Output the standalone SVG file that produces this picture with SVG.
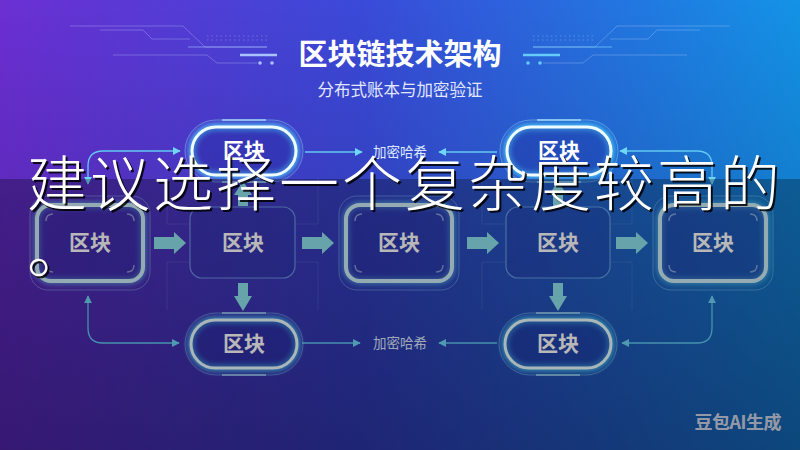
<svg xmlns="http://www.w3.org/2000/svg" width="800" height="450" viewBox="0 0 800 450">
<defs>
  <linearGradient id="bg" x1="0" y1="0" x2="1" y2="0">
    <stop offset="0" stop-color="#6c2fd3"/>
    <stop offset="0.45" stop-color="#3a4ad8"/>
    <stop offset="1" stop-color="#1393e6"/>
  </linearGradient>
  <linearGradient id="vshade" x1="0" y1="0" x2="0" y2="1">
    <stop offset="0" stop-color="#100a40" stop-opacity="0"/>
    <stop offset="1" stop-color="#100a40" stop-opacity="0.35"/>
  </linearGradient>
  <filter id="glow" x="-20%" y="-30%" width="140%" height="160%">
    <feGaussianBlur stdDeviation="2.5"/>
  </filter>
  <marker id="ah" viewBox="0 0 10 10" refX="9" refY="5" markerWidth="6" markerHeight="6" orient="auto-start-reverse">
    <path d="M0,0 L10,5 L0,10 z" fill="#6fd6f5"/>
  </marker>
  <style>
    .cjk{font-family:"Noto Sans CJK SC","Noto Sans",sans-serif}
    .title{font-size:29px;font-weight:700;fill:#ffffff}
    .sub{font-size:16.5px;fill:#e2e8ff}
    .lbl{font-size:13.5px;fill:#dde8ff}
    .ntext{font-size:21px;font-weight:700;fill:#ffffff}
    .deco{fill:none;stroke:#c9d6ff;stroke-opacity:0.3;stroke-width:1}
    .pillglow{fill:none;stroke:#4fd2ff;stroke-width:7;filter:url(#glow);opacity:0.8}
    .pill{fill:#1c2a9c;fill-opacity:0.35;stroke:#eefcff;stroke-width:3}
    .ring{fill:none;stroke:#9fdcff;stroke-opacity:0.4;stroke-width:1}
    .ringhi{fill:none;stroke:#bff0ff;stroke-opacity:0.8;stroke-width:1.5}
    .thickglow{fill:none;stroke:#6fe0ff;stroke-width:7;filter:url(#glow);opacity:0.55}
    .thick{fill:#2a2c9a;fill-opacity:0.35;stroke:#cdeef8;stroke-width:4}
    .tick{fill:none;stroke:#cfe6ff;stroke-opacity:0.55;stroke-width:1.5}
    .thin{fill:#24339e;fill-opacity:0.25;stroke:#8ecbff;stroke-opacity:0.6;stroke-width:1.2}
    .frame{fill:none;stroke:#b8ccff;stroke-opacity:0.15;stroke-width:1}
    .conn{fill:none;stroke:#63c9f2;stroke-width:1.3}
    .blk{fill:#8fe2ec}
    .big{font-size:60px;letter-spacing:3px;font-weight:300}
  </style>
</defs>

<rect x="0" y="0" width="800" height="450" fill="url(#bg)"/>
<rect x="0" y="0" width="800" height="450" fill="url(#vshade)"/>

<!-- decorations -->
<g id="decor-left">
  <path class="deco" d="M70 26 H183 L205 47 H267"/>
  <path class="deco" d="M100 30 H143 L152 39 H190"/>
  <path class="deco" d="M113 55 H207 L217 63 H257"/>
  <path d="M207 36 H267 M207 40 H267" fill="none" stroke="#c9d6ff" stroke-opacity="0.3" stroke-dasharray="1.5 3"/>
  <path d="M188 47 H267" fill="none" stroke="#a8c4ff" stroke-opacity="0.6" stroke-width="1.2"/>
  <path d="M240 55 H277" fill="none" stroke="#a9c2ff" stroke-width="2.5"/>
  <circle cx="260" cy="63" r="1.8" fill="#a9c2ff"/>
  <circle cx="272" cy="63" r="1.8" fill="#a9c2ff"/>
</g>
<g id="decor-right" transform="translate(800,0) scale(-1,1)">
  <path class="deco" d="M70 26 H183 L205 47 H267"/>
  <path class="deco" d="M100 30 H143 L152 39 H190"/>
  <path class="deco" d="M113 55 H207 L217 63 H257"/>
  <path d="M207 36 H267 M207 40 H267" fill="none" stroke="#c9e6ff" stroke-opacity="0.3" stroke-dasharray="1.5 3"/>
  <path d="M188 47 H267" fill="none" stroke="#7cd0ff" stroke-opacity="0.7" stroke-width="1.2"/>
  <path d="M240 55 H277" fill="none" stroke="#66ccff" stroke-width="2.5"/>
  <circle cx="260" cy="63" r="1.8" fill="#66ccff"/>
  <circle cx="272" cy="63" r="1.8" fill="#66ccff"/>
</g>

<g id="title">
  <text class="cjk title" x="400" y="65" text-anchor="middle">区块链技术架构</text>
  <text class="cjk sub" x="400" y="96" text-anchor="middle">分布式账本与加密验证</text>
</g>

<!-- faint frames -->
<g id="frames">
  <path class="frame" d="M167 178 V224 H190 M167 310 V262 H190 M318 178 V224 H295 M318 310 V262 H295"/>
  <path class="frame" d="M482 178 V224 H506 M482 310 V262 H506 M632 178 V224 H610 M632 310 V262 H610"/>
</g>

<!-- connectors -->
<g id="connectors">
  <path class="conn" d="M180 151 H103 Q88 151 88 166 V184" marker-start="url(#ah)" marker-end="url(#ah)"/>
  <path class="conn" d="M305 152 H362" marker-end="url(#ah)"/>
  <path class="conn" d="M497 152 H439" marker-end="url(#ah)"/>
  <path class="conn" d="M620 151 H697 Q712 151 712 166 V184" marker-start="url(#ah)" marker-end="url(#ah)"/>
  <path class="conn" d="M88 296 V328 Q88 343 103 343 H179" marker-start="url(#ah)" marker-end="url(#ah)"/>
  <path class="conn" d="M302 343 H360" marker-end="url(#ah)"/>
  <path class="conn" d="M497 343 H439" marker-end="url(#ah)"/>
  <path class="conn" d="M712 296 V328 Q712 343 697 343 H622" marker-start="url(#ah)" marker-end="url(#ah)"/>
  <polygon class="blk" points="154,237 174,237 174,232 186,243 174,254 174,249 154,249"/>
  <polygon class="blk" points="302,237 322,237 322,232 334,243 322,254 322,249 302,249"/>
  <polygon class="blk" points="467,237 487,237 487,232 499,243 487,254 487,249 467,249"/>
  <polygon class="blk" points="616,237 636,237 636,232 648,243 636,254 636,249 616,249"/>
  <polygon class="blk" points="238,283 248,283 248,296 252,296 243,311 234,296 238,296"/>
  <polygon class="blk" points="553,283 563,283 563,296 567,296 558,311 549,296 553,296"/>
  <polygon class="blk" points="238,206 248,206 248,195 252,195 243,181 234,195 238,195"/>
  <polygon class="blk" points="553,206 563,206 563,195 567,195 558,181 549,195 553,195"/>
</g>

<!-- top pills -->
<g id="pill-top-left">
  <rect class="ring" x="185" y="120" width="118" height="62" rx="31"/>
  <path class="ringhi" d="M222 120 H266 M222 182 H266"/>
  <rect class="pillglow" x="192" y="127" width="104" height="48" rx="24"/>
  <rect class="pill" x="192" y="127" width="104" height="48" rx="24"/>
  <text class="cjk ntext" x="244" y="158" text-anchor="middle" font-size="20">区块</text>
</g>
<g id="hash-top">
  <text class="cjk lbl" x="400" y="157" text-anchor="middle">加密哈希</text>
</g>
<g id="pill-top-right">
  <rect class="ring" x="500" y="120" width="118" height="62" rx="31"/>
  <path class="ringhi" d="M537 120 H581 M537 182 H581"/>
  <rect class="pillglow" x="507" y="127" width="104" height="48" rx="24"/>
  <rect class="pill" x="507" y="127" width="104" height="48" rx="24"/>
  <text class="cjk ntext" x="559" y="158" text-anchor="middle" font-size="20">区块</text>
</g>

<!-- middle row -->
<g id="block-1">
  <rect class="ring" x="30" y="196" width="120" height="94" rx="18"/>
  <rect class="thickglow" x="37" y="205" width="106" height="76" rx="14"/>
  <rect class="thick" x="37" y="205" width="106" height="76" rx="14"/>
  <path class="tick" d="M46 221 Q46 214 53 214 M127 214 Q134 214 134 221 M46 265 Q46 272 53 272 M127 272 Q134 272 134 265"/>
  <text class="cjk ntext" x="90" y="250" text-anchor="middle">区块</text>
</g>
<g id="block-2">
  <rect class="thin" x="190" y="207" width="105" height="71" rx="12"/>
  <text class="cjk ntext" x="243" y="250" text-anchor="middle" font-size="20">区块</text>
</g>
<g id="block-3">
  <rect class="ring" x="339" y="196" width="120" height="94" rx="18"/>
  <rect class="thickglow" x="346" y="205" width="106" height="76" rx="14"/>
  <rect class="thick" x="346" y="205" width="106" height="76" rx="14"/>
  <path class="tick" d="M355 221 Q355 214 362 214 M436 214 Q443 214 443 221 M355 265 Q355 272 362 272 M436 272 Q443 272 443 265"/>
  <text class="cjk ntext" x="399" y="250" text-anchor="middle">区块</text>
</g>
<g id="block-4">
  <rect class="thin" x="506" y="207" width="104" height="71" rx="12"/>
  <text class="cjk ntext" x="558" y="250" text-anchor="middle" font-size="20">区块</text>
</g>
<g id="block-5">
  <rect class="ring" x="653" y="196" width="120" height="94" rx="18"/>
  <rect class="thickglow" x="660" y="205" width="106" height="76" rx="14"/>
  <rect class="thick" x="660" y="205" width="106" height="76" rx="14"/>
  <path class="tick" d="M669 221 Q669 214 676 214 M750 214 Q757 214 757 221 M669 265 Q669 272 676 272 M750 272 Q757 272 757 265"/>
  <text class="cjk ntext" x="713" y="250" text-anchor="middle">区块</text>
</g>

<!-- bottom pills -->
<g id="pill-bottom-left">
  <rect class="ring" x="185" y="313" width="118" height="62" rx="31"/>
  <path class="ringhi" d="M222 313 H266 M222 375 H266"/>
  <rect class="pillglow" x="191" y="320" width="106" height="48" rx="24"/>
  <rect class="pill" x="191" y="320" width="106" height="48" rx="24"/>
  <text class="cjk ntext" x="244" y="351" text-anchor="middle">区块</text>
</g>
<g id="hash-bottom">
  <text class="cjk lbl" x="400" y="348" text-anchor="middle">加密哈希</text>
</g>
<g id="pill-bottom-right">
  <rect class="ring" x="499" y="313" width="118" height="62" rx="31"/>
  <path class="ringhi" d="M536 313 H580 M536 375 H580"/>
  <rect class="pillglow" x="505" y="320" width="106" height="48" rx="24"/>
  <rect class="pill" x="505" y="320" width="106" height="48" rx="24"/>
  <text class="cjk ntext" x="558" y="351" text-anchor="middle">区块</text>
</g>

<text class="cjk" x="781" y="429" text-anchor="end" font-size="18" font-weight="700" fill="#e6e6f0" fill-opacity="0.9" letter-spacing="-0.5">豆包AI生成</text>

<!-- dark overlay band -->
<rect x="0" y="179" width="800" height="271" fill="#000000" fill-opacity="0.28"/>

<!-- overlay caption -->
<g id="caption" font-family="'Noto Sans CJK SC','Noto Sans',sans-serif">
  <text class="big" x="29" y="208" fill="#000000" fill-opacity="0.85">建议选择一个复杂度较高的</text>
  <text class="big" x="29" y="275" fill="#000000" fill-opacity="0.85">。</text>
  <text class="big" x="27" y="206" fill="#ffffff">建议选择一个复杂度较高的</text>
  <text class="big" x="27" y="273" fill="#ffffff">。</text>
</g>
</svg>
